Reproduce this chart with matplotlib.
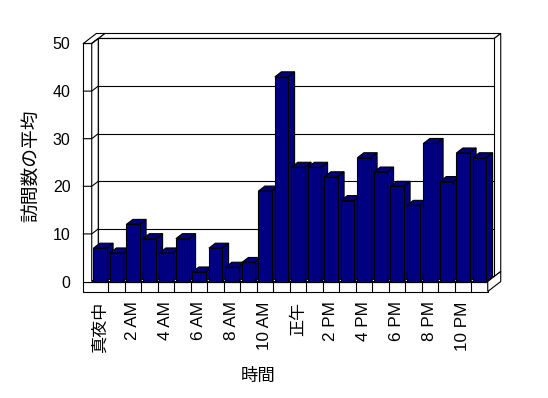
import matplotlib.pyplot as plt
from matplotlib.patches import Polygon

plt.rcParams["font.family"] = ["Liberation Sans", "Noto Sans CJK JP", "DejaVu Sans"]

hours = list(range(24))
visits = [7, 6, 12, 9, 6, 9, 2, 7, 3, 4, 19, 43,
          24, 24, 22, 17, 26, 23, 20, 16, 29, 21, 27, 26]
hour_labels = ["真夜中", "2 AM", "4 AM", "6 AM", "8 AM", "10 AM",
               "正午", "2 PM", "4 PM", "6 PM", "8 PM", "10 PM"]
y_ticks = [0, 10, 20, 30, 40, 50]

NAVY = "#000080"
LW = 0.8
# oblique depth offset (one depth unit), wall and floor thickness, in data units
DX, DY = 0.394, 1.05
WALL = 0.51
FLOOR = 2.1
TOP = y_ticks[-1]

fig = plt.figure(figsize=(5.48, 3.98), dpi=100)
ax = fig.add_axes([0.1373, 0.2568, 0.7979, 0.6698])
ax.set_xlim(-1.5, 25)
ax.set_ylim(-3, 53)
for s in ax.spines.values():
    s.set_visible(False)


def face(pts, z, fc="white"):
    ax.add_patch(Polygon(pts, closed=True, fc=fc, ec="black", lw=LW, zorder=z))


x0, x1 = -0.5, len(hours) - 0.5

# back wall: top and right side, then the inner face with gridlines
face([(x0 + DX, TOP + DY), (x1 + DX, TOP + DY), (x1 + 2 * DX, TOP + 2 * DY),
      (x0 + 2 * DX, TOP + 2 * DY)], 1)
face([(x1 + DX, DY), (x1 + 2 * DX, 2 * DY), (x1 + 2 * DX, TOP + 2 * DY),
      (x1 + DX, TOP + DY)], 1)
face([(x0 + DX, DY), (x1 + DX, DY), (x1 + DX, TOP + DY), (x0 + DX, TOP + DY)], 1)
for v in y_ticks[1:]:
    ax.plot([x0 + DX, x1 + DX], [v + DY, v + DY], color="black", lw=LW, zorder=2)

# floor
face([(x0, 0), (x1, 0), (x1 + DX, DY), (x0 + DX, DY)], 3)
face([(x0 - WALL, -FLOOR), (x1, -FLOOR), (x1, 0), (x0 - WALL, 0)], 3)
face([(x1, -FLOOR), (x1 + 2 * DX, 2 * DY - FLOOR), (x1 + 2 * DX, 2 * DY),
      (x1, 0)], 3)
for b in range(1, len(hours)):
    ax.plot([b - 0.5, b - 0.5], [-FLOOR, 0], color="black", lw=LW, zorder=4)

# left wall
face([(x0 - WALL, 0), (x0, 0), (x0, TOP), (x0 - WALL, TOP)], 3)
face([(x0 - WALL, TOP), (x0, TOP), (x0 + 2 * DX, TOP + 2 * DY),
      (x0 - WALL + 2 * DX, TOP + 2 * DY)], 3)
face([(x0, 0), (x0 + DX, DY), (x0 + DX, TOP + DY), (x0, TOP)], 3)
for v in y_ticks[1:]:
    ax.plot([x0 - WALL, x0, x0 + DX], [v, v, v + DY], color="black", lw=LW, zorder=4)

# bars: side and top faces behind, front from ax.bar
bars = ax.bar(hours, visits, width=0.8, color=NAVY, edgecolor="black", lw=LW)
for i, (h, v) in enumerate(zip(hours, visits)):
    z = 10 + 2 * i
    r = h + 0.4
    l = h - 0.4
    face([(r, 0), (r + DX, DY), (r + DX, v + DY), (r, v)], z, NAVY)
    face([(l, v), (r, v), (r + DX, v + DY), (l + DX, v + DY)], z, NAVY)
    bars[i].set_zorder(z + 1)

ax.set_yticks(y_ticks)
ax.set_yticklabels([str(t) for t in y_ticks], fontsize=11.5)
ax.set_xticks(hours[::2])
ax.set_xticklabels(hour_labels, rotation=90, fontsize=12.3, va="top", ha="center")
ax.tick_params(axis="both", length=0)
ax.tick_params(axis="y", pad=3.5)
ax.tick_params(axis="x", pad=4)

fig.text(0.06, 0.583, "訪問数の平均", rotation=90, ha="center", va="center",
         fontsize=13.5)
fig.text(0.471, 0.055, "時間", ha="center", va="center", fontsize=12.5)

fig.savefig("out.png", dpi=100)
